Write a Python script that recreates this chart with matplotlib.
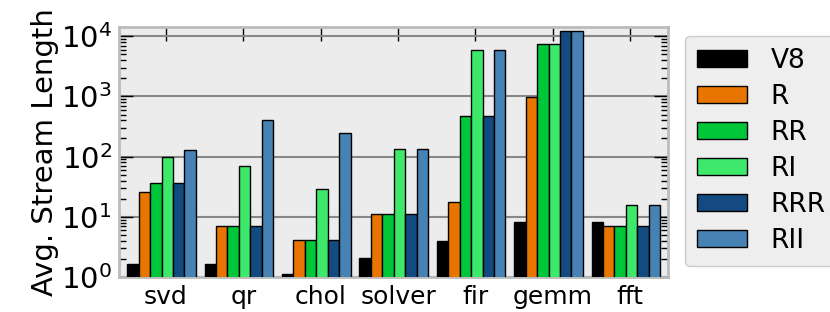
import numpy as np
import matplotlib
matplotlib.use('Agg')
import matplotlib.pyplot as plt
from matplotlib.ticker import LogLocator

benchmarks = ['svd', 'qr', 'chol', 'solver', 'fir', 'gemm', 'fft']
series = ['V8', 'R', 'RR', 'RI', 'RRR', 'RII']
colors = ['#000000', '#e87500', '#00c73a', '#3de86a', '#134a80', '#4682b4']

v8 = [1.65, 1.65, 1.13, 2.05, 4.0, 8.3, 8.3]
r = [26, 7, 4.1, 11, 17.8, 990, 7.1]
rr = [36, 7, 4.1, 11, 470, 7550, 7.1]
ri = [100, 69, 29, 133, 6000, 7550, 16]
rrr = [36, 7, 4.1, 11, 470, 12300, 7.1]
rii = [127, 410, 247, 133, 6000, 12300, 16]
values = [v8, r, rr, ri, rrr, rii]

width = 0.148
x = np.arange(len(benchmarks))

fig = plt.figure(figsize=(8.3, 3.12), dpi=100)
ax = fig.add_axes([0.143, 0.112, 0.662, 0.801])
ax.set_facecolor('#ececec')

for i, (name, vals) in enumerate(zip(series, values)):
    ax.bar(x - 0.5 + i * width, vals, width, align='edge',
           color=colors[i], edgecolor='black', linewidth=1, label=name, zorder=3)

ax.set_yscale('log')
ax.set_ylim(1, 10 ** 4.15)
ax.set_yticks([1, 10, 100, 1000, 10000])
ax.yaxis.set_minor_locator(LogLocator(base=10, subs=np.arange(2, 10), numticks=10))
ax.set_xlim(-0.61, 6.49)
ax.set_xticks(x)
ax.set_xticklabels(benchmarks, fontsize=18)
ax.tick_params(axis='y', labelsize=21)
ax.set_ylabel('Avg. Stream Length', fontsize=21, labelpad=1)
ax.yaxis.grid(True, which='major', color='#888888', linewidth=1.5, zorder=0)

ax.tick_params(which='major', direction='in', top=True, right=True, length=10, width=1)
ax.tick_params(which='minor', direction='in', left=True, right=True, length=5, width=1)
ax.tick_params(axis='x', which='major', pad=6)
ax.tick_params(axis='y', which='major', pad=5)
for s in ax.spines.values():
    s.set_color('#bbbbbb')
    s.set_linewidth(2)

leg = ax.legend(loc='upper left', bbox_to_anchor=(1.03, 0.965), fontsize=19,
                handlelength=1.9, handleheight=0.65, labelspacing=0.38,
                handletextpad=0.9, fancybox=True, framealpha=1, borderpad=0.45,
                borderaxespad=0)
leg.get_frame().set_facecolor('#eeeeee')
leg.get_frame().set_edgecolor('#cccccc')

fig.savefig('out.png', dpi=100)
